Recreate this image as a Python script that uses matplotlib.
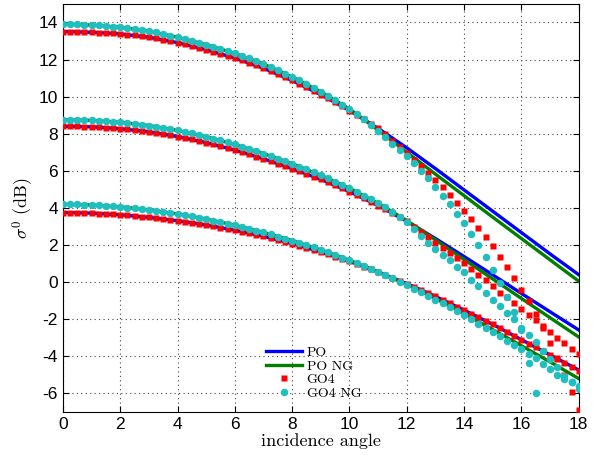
import numpy as np
import matplotlib
matplotlib.use("Agg")
import matplotlib.pyplot as plt

plt.rcParams['mathtext.fontset'] = 'cm'
plt.rcParams['axes.unicode_minus'] = False

# angle grids
x_line = np.arange(0, 19, 1)          # PO curves
x_pts = np.arange(0, 18.01, 0.25)     # GO4 samples

# ---- top group ----
po_top = [13.5, 13.47, 13.38, 13.2, 12.91, 12.53, 12.08, 11.53, 10.87, 10.11,
          9.25, 8.29, 7.24, 6.12, 4.97, 3.82, 2.67, 1.52, 0.4]
pong_top = [13.9, 13.86, 13.74, 13.53, 13.2, 12.8, 12.33, 11.76, 11.06, 10.26,
            9.33, 8.2, 7.0, 5.82, 4.66, 3.5, 2.35, 1.2, 0.05]
go4_top = [13.50, 13.50, 13.49, 13.48, 13.47, 13.45, 13.43, 13.41, 13.38, 13.34,
           13.30, 13.25, 13.20, 13.14, 13.07, 12.99, 12.91, 12.82, 12.73, 12.63,
           12.53, 12.42, 12.32, 12.20, 12.08, 11.95, 11.82, 11.68, 11.53, 11.38,
           11.22, 11.05, 10.87, 10.69, 10.50, 10.31, 10.11, 9.90, 9.69, 9.47,
           9.25, 9.02, 8.78, 8.54, 8.29, 7.97, 7.63, 7.29, 6.95, 6.61,
           6.25, 5.89, 5.53, 5.12, 4.72, 4.29, 3.85, 3.41, 2.94, 2.44,
           1.93, 1.38, 0.80, 0.20, -0.41, -1.04, -1.74, -2.46, -3.28, -4.10,
           -4.98, -5.94, -6.88]
go4ng_top = [13.90, 13.90, 13.89, 13.88, 13.86, 13.84, 13.81, 13.78, 13.74, 13.69,
             13.64, 13.59, 13.53, 13.46, 13.38, 13.29, 13.20, 13.10, 13.01, 12.91,
             12.80, 12.69, 12.58, 12.46, 12.33, 12.20, 12.06, 11.91, 11.76, 11.59,
             11.42, 11.24, 11.06, 10.87, 10.67, 10.47, 10.26, 10.04, 9.81, 9.57,
             9.33, 9.07, 8.79, 8.47, 8.13, 7.80, 7.47, 7.13, 6.78, 6.40,
             6.00, 5.59, 5.14, 4.66, 4.20, 3.69, 3.19, 2.58, 1.98, 1.34,
             0.66, -0.04, -0.78, -1.62, -2.60, -4.36, -5.98, np.nan, np.nan, np.nan,
             np.nan, np.nan, np.nan]

# ---- middle group ----
po_mid = [8.4, 8.37, 8.27, 8.1, 7.85, 7.52, 7.12, 6.65, 6.12, 5.54,
          4.88, 4.13, 3.28, 2.35, 1.38, 0.39, -0.61, -1.6, -2.58]
pong_mid = [8.76, 8.72, 8.62, 8.44, 8.18, 7.84, 7.42, 6.93, 6.38, 5.76,
            5.06, 4.25, 3.32, 2.28, 1.22, 0.17, -0.88, -1.92, -2.96]
go4_mid = [8.40, 8.40, 8.39, 8.38, 8.37, 8.35, 8.32, 8.30, 8.27, 8.23,
           8.19, 8.15, 8.10, 8.04, 7.98, 7.92, 7.85, 7.77, 7.69, 7.61,
           7.52, 7.42, 7.33, 7.23, 7.12, 7.01, 6.89, 6.77, 6.65, 6.52,
           6.39, 6.26, 6.12, 5.98, 5.84, 5.69, 5.54, 5.38, 5.22, 5.05,
           4.88, 4.70, 4.51, 4.32, 4.13, 3.92, 3.71, 3.50, 3.28, 2.99,
           2.70, 2.41, 2.12, 1.84, 1.56, 1.29, 1.02, 0.72, 0.39, 0.09,
           -0.23, -0.56, -0.81, -1.13, -1.45, -1.76, -2.03, -2.39, -2.71, -3.00,
           -3.30, -3.60, -3.90]
go4ng_mid = [8.76, 8.76, 8.75, 8.74, 8.72, 8.70, 8.67, 8.65, 8.62, 8.58,
             8.53, 8.49, 8.44, 8.38, 8.32, 8.25, 8.18, 8.10, 8.02, 7.93,
             7.84, 7.74, 7.64, 7.53, 7.42, 7.30, 7.18, 7.06, 6.93, 6.80,
             6.66, 6.52, 6.38, 6.23, 6.08, 5.92, 5.76, 5.59, 5.42, 5.24,
             5.06, 4.87, 4.67, 4.46, 4.25, 4.03, 3.80, 3.53, 3.22, 2.86,
             2.48, 2.10, 1.78, 1.47, 1.20, 0.84, 0.52, 0.13, -0.20, -0.56,
             -0.95, -1.31, -1.67, -2.00, -2.48, -2.84, -3.25, -3.70, -4.15, -4.60,
             -5.05, -5.40, -5.75]

# ---- bottom group ----
po_bot = [3.75, 3.72, 3.63, 3.49, 3.31, 3.08, 2.8, 2.47, 2.08, 1.63,
          1.12, 0.55, -0.08, -0.77, -1.51, -2.28, -3.1, -3.92, -4.74]
pong_bot = [4.2, 4.16, 4.06, 3.9, 3.68, 3.4, 3.07, 2.68, 2.24, 1.74,
            1.18, 0.56, -0.12, -0.88, -1.7, -2.56, -3.43, -4.3, -5.2]
go4_bot = [3.75, 3.75, 3.74, 3.73, 3.72, 3.70, 3.68, 3.66, 3.63, 3.60,
           3.56, 3.53, 3.49, 3.45, 3.40, 3.36, 3.31, 3.25, 3.20, 3.14,
           3.08, 3.01, 2.94, 2.87, 2.80, 2.72, 2.64, 2.56, 2.47, 2.38,
           2.28, 2.18, 2.08, 1.97, 1.86, 1.75, 1.63, 1.51, 1.38, 1.25,
           1.12, 0.98, 0.84, 0.70, 0.55, 0.39, 0.24, 0.08, -0.08, -0.25,
           -0.42, -0.60, -0.77, -0.95, -1.13, -1.32, -1.51, -1.70, -1.89, -2.08,
           -2.28, -2.49, -2.69, -2.90, -3.10, -3.31, -3.51, -3.72, -3.93, -4.14,
           -4.35, -4.57, -4.80]
go4ng_bot = [4.20, 4.20, 4.19, 4.18, 4.16, 4.14, 4.12, 4.09, 4.06, 4.02,
             3.98, 3.94, 3.90, 3.85, 3.80, 3.74, 3.68, 3.61, 3.54, 3.47,
             3.40, 3.32, 3.24, 3.16, 3.07, 2.97, 2.88, 2.78, 2.68, 2.57,
             2.46, 2.35, 2.24, 2.12, 1.99, 1.87, 1.74, 1.60, 1.46, 1.32,
             1.17, 1.02, 0.87, 0.71, 0.54, 0.37, 0.20, 0.02, -0.16, -0.35,
             -0.54, -0.74, -0.94, -1.15, -1.36, -1.57, -1.79, -2.01, -2.23, -2.46,
             -2.69, -2.92, -3.15, -3.39, -3.63, -3.87, -4.11, -4.40, -4.70, -4.98,
             -5.22, -5.38, -5.62]

groups = [(po_top, pong_top, go4_top, go4ng_top),
          (po_mid, pong_mid, go4_mid, go4ng_mid),
          (po_bot, pong_bot, go4_bot, go4ng_bot)]

fig = plt.figure(figsize=(5.93, 4.55), dpi=100)
ax = fig.add_axes([0.106, 0.0945, 0.870, 0.897])

for i, (po, pong, go4, go4ng) in enumerate(groups):
    ax.plot(x_line, po, color='#0000ff', lw=2.4, label='PO' if i == 0 else None, zorder=2)
    ax.plot(x_line, pong, color='#008000', lw=2.4, label='PO NG' if i == 0 else None, zorder=2)
for i, (po, pong, go4, go4ng) in enumerate(groups):
    ax.plot(x_pts, go4, ls='none', marker='s', ms=4.8, color='#ff0000', mec='none',
            label='GO4' if i == 0 else None, zorder=3)
for i, (po, pong, go4, go4ng) in enumerate(groups):
    ax.plot(x_pts, go4ng, ls='none', marker='o', ms=5.4, color='#1fbfbf', mec='none',
            label='GO4 NG' if i == 0 else None, zorder=4)

ax.set_xlim(0, 18)
ax.set_ylim(-7, 15)
ax.set_xticks(np.arange(0, 19, 2))
ax.set_yticks(np.arange(-6, 15, 2))
ax.tick_params(direction='in', top=True, right=True, labelsize=12.5, length=4)
for lab in ax.get_xticklabels() + ax.get_yticklabels():
    lab.set_fontname('Liberation Sans')
ax.grid(True, ls=(0, (1, 3)), color='#444444', lw=0.8)
for s in ax.spines.values():
    s.set_linewidth(0.8)

ax.set_xlabel('incidence angle', fontname='cmr10', fontsize=13, labelpad=1)
ax.set_ylabel(r'$\sigma^0$ (dB)', fontname='cmr10', fontsize=13, labelpad=2)

leg = ax.legend(loc='lower left', bbox_to_anchor=(0.37, 0.0), frameon=False,
                numpoints=1, handlelength=2.6, handletextpad=0.3, labelspacing=0.05,
                prop={'family': 'cmr10', 'size': 10})

fig.savefig('out.png', dpi=100)
